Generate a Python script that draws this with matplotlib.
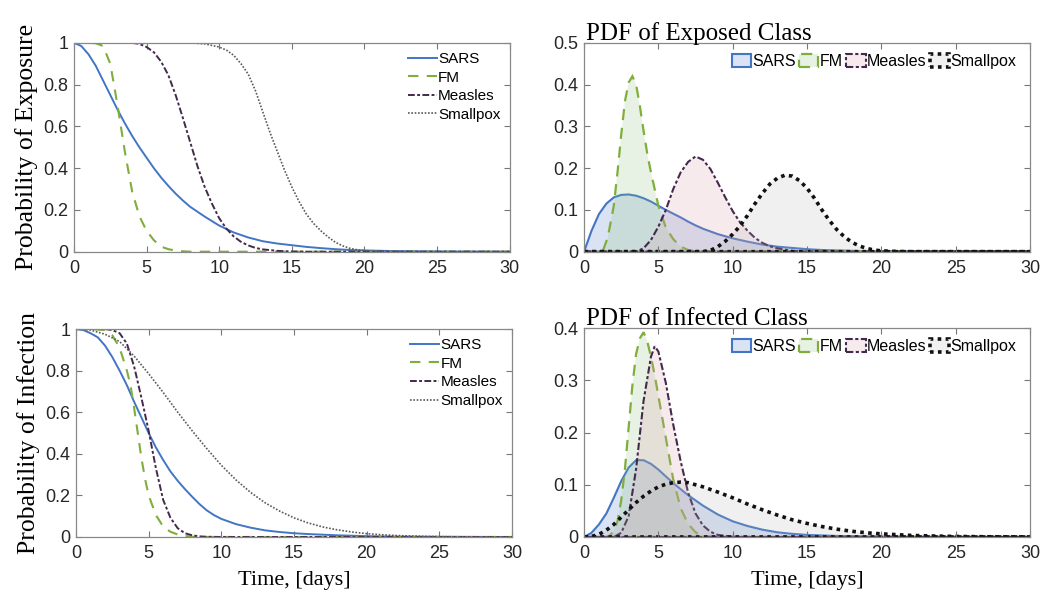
import numpy as np
import matplotlib
matplotlib.use('Agg')
import matplotlib.pyplot as plt

################################################################################
# DATA
################################################################################
names = ['SARS', 'FM', 'Measles', 'Smallpox']

# probability of exposure (survival)
exp_sars_t = [0, 0.5, 1, 1.5, 2, 2.5, 3, 3.5, 4, 4.5, 5, 5.5, 6, 6.5, 7, 7.5, 8, 9, 10, 11, 12, 13, 14, 15, 16, 17, 18, 19, 20, 22, 25, 30]
exp_sars_p = [1, 0.985, 0.945, 0.89, 0.82, 0.75, 0.68, 0.615, 0.555, 0.5, 0.45, 0.4, 0.355, 0.315, 0.278, 0.245, 0.215, 0.168, 0.125, 0.092, 0.068, 0.05, 0.039, 0.031, 0.023, 0.017, 0.012, 0.008, 0.006, 0.003, 0.001, 0]
exp_fm_t = [0, 1, 1.5, 2, 2.5, 3, 3.5, 4, 4.5, 5, 5.5, 6, 6.5, 7, 7.5, 8, 30]
exp_fm_p = [1, 1, 0.998, 0.985, 0.9, 0.7, 0.48, 0.29, 0.17, 0.1, 0.055, 0.024, 0.012, 0.005, 0.002, 0, 0]
exp_mea_t = [0, 4, 4.5, 5, 5.5, 6, 6.5, 7, 7.5, 8, 8.5, 9, 9.5, 10, 10.5, 11, 11.5, 12, 12.5, 13, 14, 15, 16, 30]
exp_mea_p = [1, 1, 0.995, 0.98, 0.955, 0.91, 0.845, 0.75, 0.64, 0.525, 0.41, 0.31, 0.23, 0.16, 0.11, 0.073, 0.047, 0.03, 0.018, 0.011, 0.004, 0.001, 0, 0]
exp_sp_t = [0, 8, 9, 10, 10.5, 11, 11.5, 12, 12.5, 13, 13.5, 14, 14.5, 15, 15.5, 16, 16.5, 17, 17.5, 18, 18.5, 19, 19.5, 20, 21, 22, 30]
exp_sp_p = [1, 1, 0.995, 0.98, 0.965, 0.94, 0.9, 0.85, 0.77, 0.67, 0.57, 0.48, 0.39, 0.31, 0.24, 0.18, 0.135, 0.1, 0.07, 0.045, 0.028, 0.016, 0.009, 0.005, 0.001, 0, 0]

# pdf of exposed class
pe_sars_t = [0, 0.25, 0.5, 1, 1.5, 2, 2.5, 3, 3.5, 4, 4.5, 5, 5.5, 6, 6.5, 7, 7.5, 8, 9, 10, 11, 12, 13, 14, 15, 16, 18, 20, 23, 30]
pe_sars_p = [0, 0.025, 0.05, 0.09, 0.115, 0.13, 0.136, 0.137, 0.134, 0.128, 0.12, 0.11, 0.1, 0.091, 0.082, 0.072, 0.063, 0.055, 0.042, 0.032, 0.024, 0.017, 0.012, 0.009, 0.006, 0.004, 0.002, 0.001, 0, 0]
pe_fm_t = [0, 1, 1.3, 1.6, 2, 2.25, 2.5, 2.75, 3, 3.25, 3.5, 3.75, 4, 4.25, 4.5, 4.75, 5, 5.5, 6, 6.5, 7, 7.5, 8, 30]
pe_fm_p = [0, 0, 0.005, 0.035, 0.11, 0.19, 0.28, 0.36, 0.405, 0.42, 0.4, 0.35, 0.29, 0.235, 0.19, 0.15, 0.11, 0.058, 0.03, 0.012, 0.004, 0.001, 0, 0]
pe_mea_t = [0, 3.5, 4, 4.5, 5, 5.5, 6, 6.5, 7, 7.5, 8, 8.5, 9, 9.5, 10, 10.5, 11, 11.5, 12, 12.5, 13, 14, 15, 30]
pe_mea_p = [0, 0, 0.008, 0.028, 0.06, 0.1, 0.15, 0.19, 0.215, 0.228, 0.22, 0.198, 0.165, 0.13, 0.097, 0.07, 0.05, 0.033, 0.021, 0.013, 0.008, 0.002, 0, 0]
pe_sp_t = [0, 8, 8.5, 9, 9.5, 10, 10.5, 11, 11.5, 12, 12.5, 13, 13.5, 14, 14.5, 15, 15.5, 16, 16.5, 17, 17.5, 18, 18.5, 19, 19.5, 20, 21, 22, 30]
pe_sp_p = [0, 0, 0.003, 0.012, 0.025, 0.042, 0.062, 0.087, 0.115, 0.14, 0.162, 0.176, 0.183, 0.181, 0.17, 0.152, 0.128, 0.1, 0.075, 0.053, 0.036, 0.023, 0.014, 0.008, 0.004, 0.002, 0.0005, 0, 0]

# probability of infection (survival)
inf_sars_t = [0, 0.5, 1, 1.5, 2, 2.5, 3, 3.5, 4, 4.5, 5, 5.5, 6, 6.5, 7, 7.5, 8, 8.5, 9, 9.5, 10, 11, 12, 13, 14, 15, 16, 17, 18, 20, 22, 25, 30]
inf_sars_p = [1, 0.995, 0.98, 0.96, 0.92, 0.865, 0.8, 0.73, 0.65, 0.575, 0.5, 0.43, 0.37, 0.315, 0.27, 0.23, 0.193, 0.158, 0.128, 0.105, 0.087, 0.062, 0.045, 0.032, 0.024, 0.018, 0.014, 0.011, 0.008, 0.004, 0.002, 0.001, 0]
inf_fm_t = [0, 1, 2, 2.5, 3, 3.5, 3.75, 4, 4.25, 4.5, 4.75, 5, 5.5, 6, 6.5, 7, 7.5, 8, 9, 30]
inf_fm_p = [1, 1, 0.995, 0.97, 0.91, 0.8, 0.73, 0.62, 0.5, 0.38, 0.28, 0.2, 0.105, 0.05, 0.025, 0.012, 0.005, 0.001, 0, 0]
inf_mea_t = [0, 2, 2.5, 3, 3.5, 4, 4.5, 5, 5.5, 6, 6.5, 7, 7.5, 8, 8.5, 9, 10, 30]
inf_mea_p = [1, 1, 0.995, 0.98, 0.93, 0.82, 0.67, 0.51, 0.33, 0.178, 0.092, 0.042, 0.018, 0.008, 0.003, 0.001, 0, 0]
inf_sp_t = [0, 1, 2, 3, 4, 5, 6, 7, 8, 9, 10, 11, 12, 13, 14, 15, 16, 17, 18, 19, 20, 21, 22, 24, 26, 30]
inf_sp_p = [1, 0.995, 0.975, 0.94, 0.87, 0.785, 0.695, 0.6, 0.51, 0.425, 0.345, 0.275, 0.215, 0.165, 0.125, 0.092, 0.067, 0.048, 0.034, 0.024, 0.016, 0.011, 0.007, 0.003, 0.001, 0]

# pdf of infected class
pi_sars_t = [0, 0.5, 1, 1.5, 2, 2.5, 3, 3.5, 4, 4.5, 5, 5.5, 6, 7, 8, 9, 10, 11, 12, 13, 14, 15, 17, 20, 22, 30]
pi_sars_p = [0, 0.008, 0.024, 0.045, 0.075, 0.107, 0.133, 0.147, 0.147, 0.14, 0.129, 0.116, 0.103, 0.08, 0.06, 0.043, 0.03, 0.021, 0.014, 0.009, 0.006, 0.004, 0.002, 0.0005, 0, 0]
pi_fm_t = [0, 1.5, 1.75, 2, 2.25, 2.5, 2.75, 3, 3.25, 3.5, 3.75, 4, 4.25, 4.5, 4.75, 5, 5.5, 6, 6.5, 7, 7.5, 8, 9, 30]
pi_fm_p = [0, 0, 0.003, 0.012, 0.03, 0.07, 0.13, 0.21, 0.29, 0.35, 0.38, 0.392, 0.375, 0.345, 0.31, 0.27, 0.19, 0.11, 0.055, 0.025, 0.009, 0.002, 0, 0]
pi_mea_t = [0, 2, 2.5, 3, 3.5, 4, 4.5, 4.75, 5, 5.5, 6, 6.5, 7, 7.5, 8, 8.5, 9, 10, 11, 30]
pi_mea_p = [0, 0, 0.008, 0.04, 0.13, 0.26, 0.345, 0.365, 0.355, 0.295, 0.215, 0.145, 0.085, 0.045, 0.022, 0.01, 0.004, 0.0005, 0, 0]
pi_sp_t = [0, 0.5, 1, 1.5, 2, 2.5, 3, 3.5, 4, 4.5, 5, 5.5, 6, 6.5, 7, 7.5, 8, 9, 10, 11, 12, 13, 14, 15, 16, 17, 18, 19, 20, 22, 24, 26, 28, 30]
pi_sp_p = [0, 0.001, 0.005, 0.013, 0.024, 0.038, 0.052, 0.066, 0.078, 0.088, 0.096, 0.101, 0.104, 0.105, 0.104, 0.1, 0.096, 0.086, 0.075, 0.063, 0.052, 0.042, 0.033, 0.026, 0.02, 0.015, 0.011, 0.008, 0.006, 0.003, 0.0015, 0.0007, 0.0003, 0.0001]

################################################################################
# STYLE
################################################################################
plt.rcParams['font.family'] = ['Liberation Sans', 'DejaVu Sans']
serif = ['Liberation Serif', 'DejaVu Serif']

c_sars = '#4275c6'
c_fm = '#7fae3c'
c_mea = '#45294d'
c_sp_cdf = '#5a5a5a'
c_sp_pdf = '#111111'

line_sty = {
    'SARS': dict(color=c_sars, ls='-', lw=1.4),
    'FM': dict(color=c_fm, ls=(0, (5, 4)), lw=1.5),
    'Measles': dict(color=c_mea, ls=(0, (3.5, 1.2, 1.5, 1.2)), lw=1.4),
    'Smallpox': dict(color=c_sp_cdf, ls=(0, (1, 1)), lw=1.2),
}
fill_sty = {
    'SARS': dict(fc=c_sars, ec=c_sars, ls='-', lw=1.5),
    'FM': dict(fc='#8fc27a', ec=c_fm, ls=(0, (5, 3.5)), lw=1.6),
    'Measles': dict(fc='#d79aa8', ec=c_mea, ls=(0, (3.5, 1.2, 1.5, 1.2)), lw=1.5),
    'Smallpox': dict(fc='#b4b4b4', ec=c_sp_pdf, ls=(0, (1, 1.2)), lw=2.6),
}


def style_axes(ax, ymax, yticks, ylabels):
    ax.set_xlim(0, 30)
    ax.set_ylim(0, ymax)
    ax.set_xticks([0, 5, 10, 15, 20, 25, 30])
    ax.set_yticks(yticks)
    ax.set_yticklabels(ylabels)
    ax.tick_params(direction='in', top=True, right=True, length=4, width=0.8,
                   color='#777777', labelcolor='#262626', labelsize=13)
    ax.tick_params(axis='x', pad=6)
    ax.tick_params(axis='y', pad=4)
    for s in ax.spines.values():
        s.set_color('#888888')
        s.set_linewidth(0.9)


def cdf_panel(ax, data, ylabel):
    for name, (t, p) in zip(names, data):
        ax.plot(t, p, label=name, **line_sty[name])
    style_axes(ax, 1, [0, 0.2, 0.4, 0.6, 0.8, 1], ['0', '0.2', '0.4', '0.6', '0.8', '1'])
    ax.set_ylabel(ylabel, family=serif, fontsize=18.5, labelpad=4)
    ax.legend(loc='upper right', frameon=False, fontsize=11, handlelength=1.9,
              handletextpad=0.1, labelspacing=0.3, borderaxespad=0.2,
              bbox_to_anchor=(1.0, 1.0))


def pdf_panel(ax, data, title, ymax, yticks, ylabels):
    handles = []
    for name, (t, p) in zip(names, data):
        st = fill_sty[name]
        xs = list(t) + [t[-1], t[0]]
        ys = list(p) + [0, 0]
        h = ax.fill(xs, ys, facecolor=matplotlib.colors.to_rgba(st['fc'], 0.2),
                    edgecolor=st['ec'], linestyle=st['ls'], linewidth=st['lw'],
                    label=name)[0]
        handles.append(h)
    style_axes(ax, ymax, yticks, ylabels)
    ax.set_title(title, family=serif, fontsize=18, loc='left', pad=2, x=0.005)
    ax.legend(handles=handles, loc='upper right', ncol=4, frameon=False, fontsize=11.5,
              handlelength=1.2, handleheight=0.9, handletextpad=0.1, columnspacing=0.2,
              borderaxespad=0.3, bbox_to_anchor=(0.995, 1.0))


################################################################################
# FIGURE
################################################################################
fig = plt.figure(figsize=(10.6, 5.95), dpi=100)
ax1 = fig.add_axes([0.0698, 0.577, 0.411, 0.351])
ax2 = fig.add_axes([0.551, 0.577, 0.4207, 0.351])
ax3 = fig.add_axes([0.0717, 0.0975, 0.4113, 0.3495])
ax4 = fig.add_axes([0.551, 0.0975, 0.4207, 0.3512])

cdf_panel(ax1, [(exp_sars_t, exp_sars_p), (exp_fm_t, exp_fm_p),
                (exp_mea_t, exp_mea_p), (exp_sp_t, exp_sp_p)], 'Probability of Exposure')
cdf_panel(ax3, [(inf_sars_t, inf_sars_p), (inf_fm_t, inf_fm_p),
                (inf_mea_t, inf_mea_p), (inf_sp_t, inf_sp_p)], 'Probability of Infection')
pdf_panel(ax2, [(pe_sars_t, pe_sars_p), (pe_fm_t, pe_fm_p),
                (pe_mea_t, pe_mea_p), (pe_sp_t, pe_sp_p)], 'PDF of Exposed Class',
          0.5, [0, 0.1, 0.2, 0.3, 0.4, 0.5], ['0', '0.1', '0.2', '0.3', '0.4', '0.5'])
pdf_panel(ax4, [(pi_sars_t, pi_sars_p), (pi_fm_t, pi_fm_p),
                (pi_mea_t, pi_mea_p), (pi_sp_t, pi_sp_p)], 'PDF of Infected Class',
          0.4, [0, 0.1, 0.2, 0.3, 0.4], ['0', '0.1', '0.2', '0.3', '0.4'])

ax3.set_xlabel('Time, [days]', family=serif, fontsize=16, labelpad=6)
ax4.set_xlabel('Time, [days]', family=serif, fontsize=16, labelpad=6)

fig.savefig('out.png', dpi=100)
